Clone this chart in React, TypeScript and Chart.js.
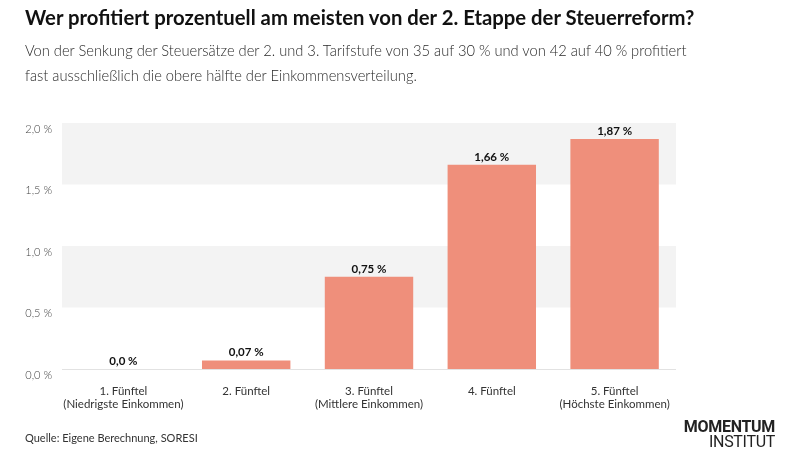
import React, { useEffect, useRef } from "react";
import { Chart, registerables } from "chart.js";

Chart.register(...registerables);

const categories: string[][] = [
  ["1. Fünftel", "(Niedrigste Einkommen)"],
  ["2. Fünftel"],
  ["3. Fünftel", "(Mittlere Einkommen)"],
  ["4. Fünftel"],
  ["5. Fünftel", "(Höchste Einkommen)"],
];
const values: number[] = [0.0, 0.07, 0.75, 1.66, 1.87];
const valueLabels: string[] = ["0,0 %", "0,07 %", "0,75 %", "1,66 %", "1,87 %"];
const yTicks: number[] = [0, 0.5, 1.0, 1.5, 2.0];
const bands: [number, number][] = [
  [0.5, 1.0],
  [1.5, 2.0],
];

const FONT = "Lato, 'Noto Sans', sans-serif";

const bgPlugin = {
  id: "bgBands",
  beforeDatasetsDraw(chart: any) {
    const { ctx, chartArea, scales } = chart;
    const y = scales.y;
    ctx.save();
    ctx.fillStyle = "#f3f3f3";
    for (const [a, b] of bands) {
      const t = y.getPixelForValue(b);
      const btm = y.getPixelForValue(a);
      ctx.fillRect(chartArea.left, t, chartArea.right - chartArea.left, btm - t);
    }
    const z = y.getPixelForValue(0);
    ctx.strokeStyle = "#e2e2e2";
    ctx.lineWidth = 1;
    ctx.beginPath();
    ctx.moveTo(chartArea.left, z + 0.5);
    ctx.lineTo(chartArea.right, z + 0.5);
    ctx.stroke();
    ctx.restore();
  },
};

const labelPlugin = {
  id: "valLabels",
  afterDatasetsDraw(chart: any) {
    const { ctx } = chart;
    const meta = chart.getDatasetMeta(0);
    ctx.save();
    ctx.font = `700 11.5px ${FONT}`;
    ctx.fillStyle = "#111";
    ctx.textAlign = "center";
    ctx.textBaseline = "bottom";
    meta.data.forEach((el: any, i: number) => {
      ctx.fillText(valueLabels[i], el.x, el.y - 2);
    });
    ctx.restore();
  },
};

export default function App() {
  const ref = useRef<HTMLCanvasElement | null>(null);
  useEffect(() => {
    document.body.style.margin = "0";
    const chart = new Chart(ref.current!, {
      type: "bar",
      data: {
        labels: categories,
        datasets: [
          {
            data: values,
            backgroundColor: "#ef8f7b",
            barPercentage: 0.72,
            categoryPercentage: 1,
          },
        ],
      },
      options: {
        animation: false,
        responsive: false,
        layout: { padding: { top: 123, right: 124, left: 0, bottom: 0 } },
        plugins: { legend: { display: false }, tooltip: { enabled: false } },
        scales: {
          x: {
            grid: { display: false, drawTicks: false },
            border: { display: false },
            ticks: {
              color: "#333",
              font: { family: FONT, size: 11.5 },
              padding: 15,
              maxRotation: 0,
              autoSkip: false,
            },
            afterFit(scale: any) {
              scale.height = 100;
            },
          },
          y: {
            min: 0,
            max: 2,
            grid: { display: false, drawTicks: false },
            border: { display: false },
            afterBuildTicks(scale: any) {
              scale.ticks = yTicks.map((v) => ({ value: v }));
            },
            ticks: {
              color: "#444",
              font: { family: FONT, size: 11, weight: 300 },
              padding: 10,
              labelOffset: 6,
              callback: (v: any) => Number(v).toFixed(1).replace(".", ",") + " %",
            },
            afterFit(scale: any) {
              scale.width = 62;
            },
          },
        },
      },
      plugins: [bgPlugin, labelPlugin],
    });
    return () => chart.destroy();
  }, []);

  return (
    <div style={{ position: "relative", width: 800, height: 469, background: "#fff", fontFamily: FONT }}>
      <canvas ref={ref} width={800} height={469} style={{ position: "absolute", left: 0, top: 0 }} />
      <div style={{ position: "absolute", left: 25, top: 5, fontSize: 20.3, fontWeight: 700, color: "#111", whiteSpace: "nowrap" }}>
        Wer profitiert prozentuell am meisten von der 2. Etappe der Steuerreform?
      </div>
      <div style={{ position: "absolute", left: 25, top: 38, fontSize: 14.7, fontWeight: 300, color: "#2a2a2a", lineHeight: "25px", whiteSpace: "nowrap" }}>
        Von der Senkung der Steuersätze der 2. und 3. Tarifstufe von 35 auf 30 % und von 42 auf 40 % profitiert
        <br />
        fast ausschließlich die obere hälfte der Einkommensverteilung.
      </div>
      <div style={{ position: "absolute", left: 25, top: 431, fontSize: 11, color: "#333", whiteSpace: "nowrap" }}>
        Quelle: Eigene Berechnung, SORESI
      </div>
      <div style={{ position: "absolute", right: 25, top: 419, fontSize: 16, fontWeight: 700, color: "#222", lineHeight: "15px", textAlign: "right", fontFamily: "Roboto, sans-serif", letterSpacing: -0.3 }}>
        MOMENTUM
        <br />
        <span style={{ fontWeight: 400 }}>INSTITUT</span>
      </div>
    </div>
  );
}
